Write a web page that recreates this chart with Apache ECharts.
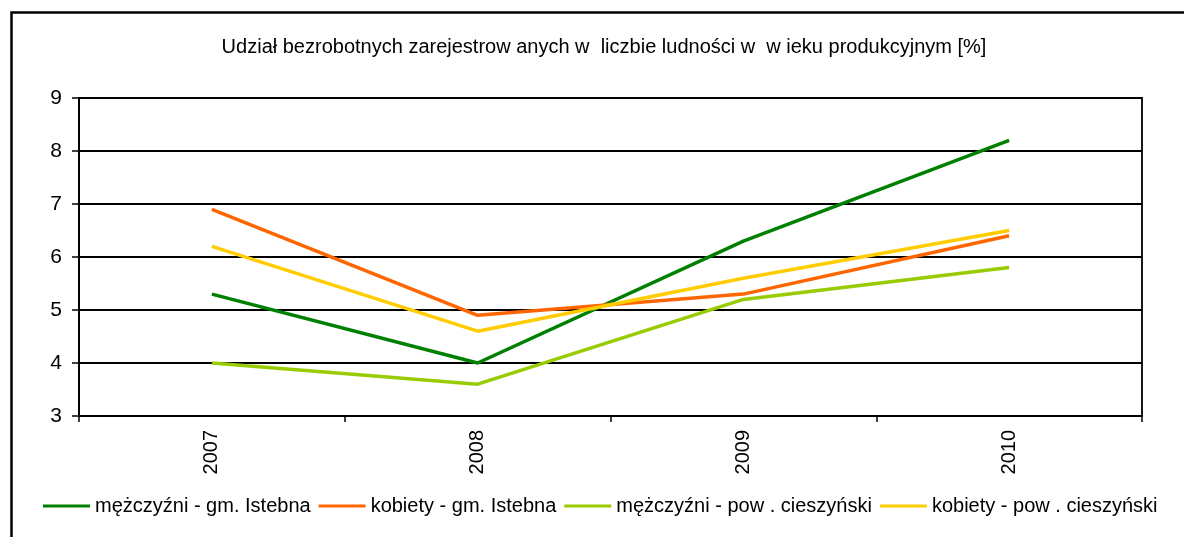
<!DOCTYPE html>
<html>
<head>
<meta charset="utf-8">
<script src="https://cdn.jsdelivr.net/npm/echarts@6/dist/echarts.min.js"></script>
<style>
  html, body { margin: 0; padding: 0; background: #fff; }
  #chart { width: 1184px; height: 537px; }
</style>
</head>
<body>
<div id="chart"></div>
<script>
  // dane
  var years = ['2007', '2008', '2009', '2010'];
  var menIstebna = [5.3, 4.0, 6.3, 8.2];
  var womenIstebna = [6.9, 4.9, 5.3, 6.4];
  var menCieszyn = [4.0, 3.6, 5.2, 5.8];
  var womenCieszyn = [6.2, 4.6, 5.6, 6.5];
  var seriesNames = [
    'mężczyźni - gm. Istebna',
    'kobiety - gm. Istebna',
    'mężczyźni - pow . cieszyński',
    'kobiety - pow . cieszyński'
  ];
  var titleText = 'Udział bezrobotnych zarejestrow anych w  liczbie ludności w  w ieku produkcyjnym [%]';

  var font = 'Liberation Sans, Arial, sans-serif';
  var chart = echarts.init(document.getElementById('chart'));

  function line(name, data, color) {
    return {
      name: name,
      type: 'line',
      data: data,
      showSymbol: false,
      symbol: 'none',
      lineStyle: { color: color, width: 3.5 },
      itemStyle: { color: color }
    };
  }

  var option = {
    animation: false,
    backgroundColor: '#fff',
    color: ['#008000', '#FF6600', '#99CC00', '#FFCC00'],
    graphic: [{
      type: 'rect',
      left: 9,
      top: 10,
      shape: { width: 1300, height: 700 },
      style: { fill: 'none', stroke: '#000', lineWidth: 2.5 },
      silent: true
    }],
    title: {
      text: titleText,
      left: 599,
      textAlign: 'center',
      top: 32,
      textStyle: { fontFamily: font, fontSize: 20, fontWeight: 'normal', color: '#000' }
    },
    legend: {
      bottom: 16,
      left: 38,
      padding: [5, 5, 5, 5],
      icon: 'rect',
      itemWidth: 47,
      itemHeight: 3,
      itemGap: 8,
      textStyle: { fontFamily: font, fontSize: 20, color: '#000' },
      data: seriesNames
    },
    grid: {
      left: 79,
      right: 42,
      top: 98,
      bottom: 121,
      show: true,
      borderColor: '#000',
      borderWidth: 1.8,
      containLabel: false
    },
    xAxis: {
      type: 'category',
      data: years,
      boundaryGap: true,
      axisLine: { lineStyle: { color: '#000', width: 2 } },
      axisTick: { show: true, interval: 0, length: 6, lineStyle: { color: '#000', width: 1.5 } },
      axisLabel: { rotate: 90, margin: 14, interval: 0, fontFamily: font, fontSize: 20, color: '#000' },
      splitLine: { show: false }
    },
    yAxis: {
      type: 'value',
      min: 3,
      max: 9,
      interval: 1,
      axisLine: { show: true, lineStyle: { color: '#000', width: 2 } },
      axisTick: { show: true, length: 7, lineStyle: { color: '#000', width: 1.5 } },
      axisLabel: { margin: 17, fontFamily: font, fontSize: 21, color: '#000' },
      splitLine: { show: true, lineStyle: { color: '#000', width: 1.8 } }
    },
    series: [
      line(seriesNames[0], menIstebna, '#008000'),
      line(seriesNames[1], womenIstebna, '#FF6600'),
      line(seriesNames[2], menCieszyn, '#99CC00'),
      line(seriesNames[3], womenCieszyn, '#FFCC00')
    ]
  };

  chart.setOption(option);
</script>
</body>
</html>
